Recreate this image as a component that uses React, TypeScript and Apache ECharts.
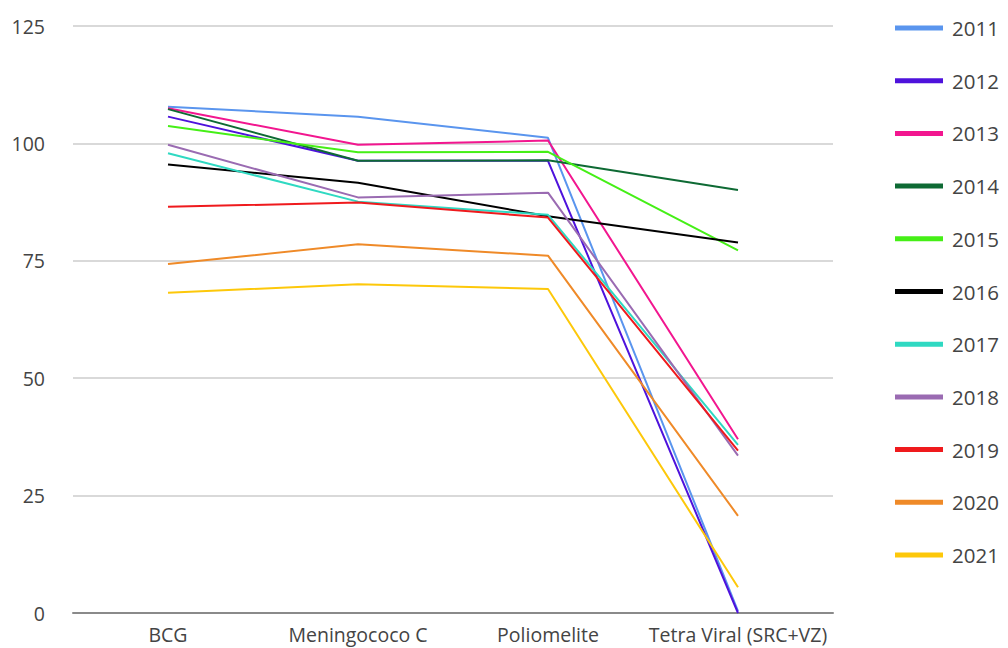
import React, { useEffect, useRef } from "react";
import * as echarts from "echarts";

// Vaccine categories on the x axis
const vaccines = ["BCG", "Meningococo C", "Poliomelite", "Tetra Viral (SRC+VZ)"];

// Coverage (%) per year, one value per vaccine
const y2011 = [107.8, 105.7, 101.2, 0.4];
const y2012 = [105.7, 96.3, 96.3, 0];
const y2013 = [107.5, 99.7, 100.6, 37.0];
const y2014 = [107.3, 96.3, 96.4, 90.1];
const y2015 = [103.7, 98.1, 98.2, 77.2];
const y2016 = [95.5, 91.6, 84.5, 78.9];
const y2017 = [97.9, 87.6, 84.8, 35.8];
const y2018 = [99.7, 88.5, 89.5, 33.5];
const y2019 = [86.5, 87.4, 84.2, 34.6];
const y2020 = [74.3, 78.5, 76.1, 20.7];
const y2021 = [68.2, 70.0, 69.0, 5.5];

const years = ["2011", "2012", "2013", "2014", "2015", "2016", "2017", "2018", "2019", "2020", "2021"];
const yearValues = [y2011, y2012, y2013, y2014, y2015, y2016, y2017, y2018, y2019, y2020, y2021];
const yearColors = [
  "#5a95ee",
  "#4e12dc",
  "#f2168f",
  "#0e6a34",
  "#45ef16",
  "#000000",
  "#2fd9c2",
  "#9a6bb2",
  "#ef1a1d",
  "#ef8a28",
  "#fdc80a",
];

const yTicks = [0, 25, 50, 75, 100, 125];

export default function App() {
  const ref = useRef<HTMLDivElement>(null);

  useEffect(() => {
    if (!ref.current) return;
    const chart = echarts.init(ref.current, undefined, { renderer: "svg" });
    const font = "'Open Sans', 'Noto Sans', sans-serif";

    chart.setOption({
      animation: false,
      backgroundColor: "#ffffff",
      color: yearColors,
      textStyle: { fontFamily: font },
      grid: { left: 73, right: 175, top: 26, bottom: 35, containLabel: false },
      legend: {
        orient: "vertical",
        left: 895,
        top: 16,
        padding: 0,
        icon: "rect",
        itemWidth: 48,
        itemHeight: 5,
        itemGap: 28.7,
        data: years,
        textStyle: {
          fontSize: 20.5,
          color: "#444",
          lineHeight: 24,
          padding: [0, 0, 0, 4],
          fontFamily: font,
        },
      },
      xAxis: {
        type: "category",
        data: vaccines,
        boundaryGap: true,
        axisLine: { show: true, lineStyle: { color: "#8a8a8a", width: 2 } },
        axisTick: { show: false },
        axisLabel: { color: "#444", fontSize: 19.5, margin: 11, interval: 0, fontFamily: font },
      },
      yAxis: {
        type: "value",
        min: yTicks[0],
        max: yTicks[yTicks.length - 1],
        interval: 25,
        axisLine: { show: false },
        axisTick: { show: false },
        axisLabel: { color: "#444", fontSize: 19.5, margin: 28, fontFamily: font },
        splitLine: { lineStyle: { color: "#cccccc", width: 1.5 } },
      },
      series: years.map((name, i) => ({
        name,
        type: "line",
        data: yearValues[i],
        symbol: "none",
        lineStyle: { width: 2, color: yearColors[i] },
        itemStyle: { color: yearColors[i] },
      })),
    });

    return () => chart.dispose();
  }, []);

  return <div ref={ref} style={{ width: 1008, height: 648, position: "absolute", left: 0, top: 0 }} />;
}
